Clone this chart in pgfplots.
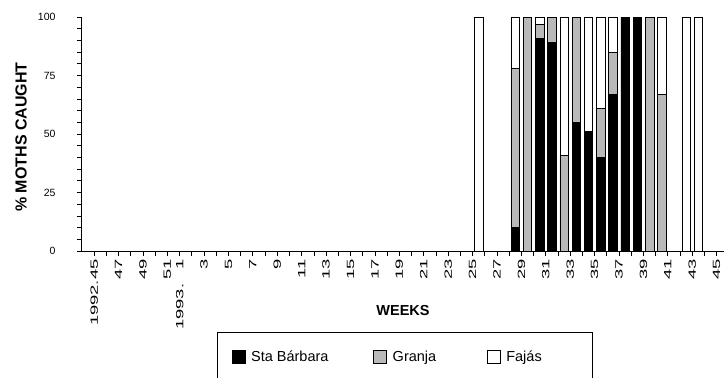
\documentclass[border=0pt]{standalone}
\usepackage{pgfplots}
\pgfplotsset{compat=1.18}
\usepackage{graphicx}
\usepackage{fontspec}
\setmainfont{Liberation Sans}
\newcommand\XL[1]{\scalebox{1.75}[1]{#1}}
\begin{document}
\begin{tikzpicture}
\begin{axis}[
  name=ax,
  width=642pt, height=234pt, scale only axis,
  xmin=-1, xmax=51.6, ymin=0, ymax=100,
  axis lines*=left,
  axis line style={line width=1pt, black},
  ybar stacked, bar width=0.7,
  tick align=outside,
  major tick length=5pt, minor tick length=5pt,
  tick style={black, line width=0.8pt},
  xtick={0,2,4,6,7,9,11,13,15,17,19,21,23,25,27,29,31,33,35,37,39,41,43,45,47,49,51},
  minor xtick={1,3,5,8,10,12,14,16,18,20,22,24,26,28,30,32,34,36,38,40,42,44,46,48,50},
  xticklabels={\XL{1992.45},\XL{47},\XL{49},\XL{51},\XL{1993.\hspace{8pt}1},\XL{3},\XL{5},\XL{7},\XL{9},\XL{11},\XL{13},\XL{15},\XL{17},\XL{19},\XL{21},\XL{23},\XL{25},\XL{27},\XL{29},\XL{31},\XL{33},\XL{35},\XL{37},\XL{39},\XL{41},\XL{43},\XL{45}},
  xticklabel style={rotate=90, anchor=east, font=\fontsize{10.5}{11}\selectfont},
  ytick={0,25,50,75,100},
  minor y tick num=4,
  yticklabel style={font=\fontsize{10.5}{12}\selectfont, xshift=-18pt},
  /pgf/number format/assume math mode=true,
  ylabel={\% MOTHS CAUGHT},
  ylabel style={at={(axis description cs:-0.095,0.487)}, anchor=center, font=\bfseries\fontsize{16}{18}\selectfont},
  xlabel={WEEKS},
  xlabel style={at={(axis description cs:0.5,-0.256)}, anchor=center, font=\bfseries\fontsize{14.5}{17}\selectfont},
  every axis plot/.append style={draw=black, line width=0.6pt},
  legend image code/.code={\draw[#1] (0pt,-6.5pt) rectangle (13pt,6.5pt);},
  legend columns=3,
  legend cell align=left,
  legend style={at={(axis description cs:0.503,-0.346)}, anchor=north, draw=black, line width=1pt,
    inner xsep=14pt, inner ysep=18pt, font=\fontsize{14.5}{17}\selectfont,
    nodes={inner sep=0pt},
    /tikz/every odd column/.append style={column sep=6pt}},
]
\addplot[fill=black, draw=black] coordinates {(31.5,0) (34.5,10) (35.5,0) (36.5,91) (37.5,89) (38.5,0) (39.5,55) (40.5,51) (41.5,40) (42.5,67) (43.5,100) (44.5,100) (45.5,0) (46.5,0) (48.5,0) (49.5,0)};
\addplot[fill=gray!55, draw=black] coordinates {(31.5,0) (34.5,68) (35.5,100) (36.5,6) (37.5,11) (38.5,41) (39.5,45) (40.5,0) (41.5,21) (42.5,18) (43.5,0) (44.5,0) (45.5,100) (46.5,67) (48.5,0) (49.5,0)};
\addplot[fill=white, draw=black] coordinates {(31.5,100) (34.5,22) (35.5,0) (36.5,3) (37.5,0) (38.5,59) (39.5,0) (40.5,49) (41.5,39) (42.5,15) (43.5,0) (44.5,0) (45.5,0) (46.5,33) (48.5,100) (49.5,100)};
\addlegendentry{\makebox[122pt][l]{Sta Bárbara}}
\addlegendentry{\makebox[94pt][l]{Granja}}
\addlegendentry{\makebox[72pt][l]{Fajás}}
\end{axis}
\pgfresetboundingbox
\path[use as bounding box] ([xshift=-82pt,yshift=-127pt]ax.south west) rectangle ([yshift=17pt]ax.north east);
\end{tikzpicture}
\end{document}
